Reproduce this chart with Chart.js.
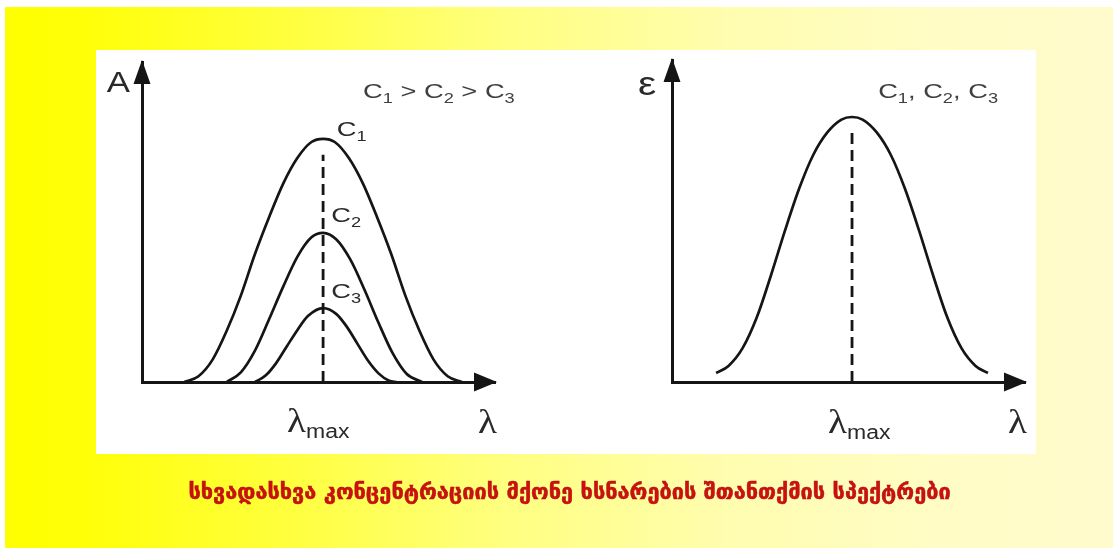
<!DOCTYPE html>
<html>
<head>
<meta charset="utf-8">
<script src="https://cdn.jsdelivr.net/npm/chart.js@4.4.1/dist/chart.umd.min.js"></script>
<style>
  body { margin: 0; background: #fff; }
  #page { position: relative; width: 1113px; height: 551px; overflow: hidden; background: #fff; }
  #band { position: absolute; left: 5px; top: 7px; width: 1108px; height: 541px;
    background: linear-gradient(to right, #ffff00 0%, #ffff08 7%, #ffff3c 25%, #ffff80 45%, #fffdae 65%, #fffcc6 85%, #fffbcc 100%); }
  #panel { position: absolute; left: 96px; top: 50px; width: 940px; height: 404px; background: #fff; }
  canvas { position: absolute; left: 0; top: 0; }
  #caption { position: absolute; left: 13px; width: 1113px; top: 479px; text-align: center;
    font-family: "DejaVu Sans", sans-serif; font-weight: bold; font-size: 21.7px; color: #cc1010;
    -webkit-text-stroke: 0.5px #b00c0c; white-space: nowrap; }
</style>
</head>
<body>
<div id="page">
  <div id="band"></div>
  <div id="panel"></div>
  <canvas id="chartA" width="1113" height="551"></canvas>
  <canvas id="chartE" width="1113" height="551"></canvas>
  <div id="caption">სხვადასხვა კონცენტრაციის მქონე ხსნარების შთანთქმის სპექტრები</div>
</div>
<script>
// left panel: absorbance A vs wavelength for three concentrations
const c1X = [12, 16, 20, 24, 28, 32, 36, 40, 44, 48, 51.3, 54.6, 58.6, 62.6, 66.6, 70.6, 74.6, 78.6, 82.6, 86.6, 90.6];
const c1Y = [0, 1.8, 7, 16, 27, 40, 51.5, 62, 70, 75, 76, 75, 70, 62, 51.5, 40, 27, 16, 7, 1.8, 0];
const c2X = [24, 28, 32, 36, 40, 44, 48, 51.3, 55, 59, 63, 67, 71, 75, 79.3];
const c2Y = [0, 3, 9.8, 19.6, 29.8, 39.1, 45.2, 46.6, 44.6, 38.3, 28.9, 18.5, 9, 2.5, 0];
const c3X = [32, 35, 38, 41, 44, 47, 51.3, 55, 58, 61, 64, 67, 70, 72.2];
const c3Y = [0, 2, 5.9, 11.1, 16.2, 20.6, 23.1, 21.3, 17.3, 12, 6.7, 2.7, 0.4, 0];
const peakA = 51.3;
const dashTopA = 71;

// right panel: molar absorptivity ε, same for all concentrations
const epsX = [12.5, 16, 20, 24, 28, 32, 36, 40, 44, 48, 51, 54, 58, 62, 66, 70, 74, 78, 82, 86, 89.5];
const epsY = [2.8, 5, 10.5, 20, 33, 47, 60, 70.5, 77.5, 81.5, 82.3, 81.5, 77.5, 70.5, 60, 47, 33, 20, 10.5, 5, 2.8];
const peakE = 51;
const dashTopE = 79;

const axisNameA = 'A';
const axisNameE = 'ε';
const axisNameX = 'λ';
const orderText = [['C', '1'], ' > ', ['C', '2'], ' > ', ['C', '3']];
const sameText = [['C', '1'], ', ', ['C', '2'], ', ', ['C', '3']];

const ink = '#151515';
const textInk = '#2a2a2a';
const sans = '"Liberation Sans", Arial, sans-serif';
const serif = '"Liberation Serif", "Times New Roman", serif';

function pts(xs, ys) {
  return xs.map((x, i) => ({ x: x, y: ys[i] }));
}

// draws text with subscripts, stretched a bit sideways like the source image
function drawRich(ctx, px, py, parts, o) {
  const sx = o.sx || 1.3;
  const subSize = Math.round(o.subSize || o.size * 0.66);
  const subFont = o.subFont || o.font;
  const runs = [];
  parts.forEach(p => {
    if (Array.isArray(p)) {
      runs.push({ t: p[0], size: o.size, font: o.font, dy: 0 });
      runs.push({ t: p[1], size: subSize, font: subFont, dy: o.subDy || o.size * 0.24 });
    } else {
      runs.push({ t: p, size: o.size, font: o.font, dy: 0 });
    }
  });
  let w = 0;
  runs.forEach(r => {
    ctx.font = r.size + 'px ' + r.font;
    r.w = ctx.measureText(r.t).width * sx;
    w += r.w;
  });
  let x = o.align === 'right' ? px - w : px;
  ctx.fillStyle = o.color || textInk;
  ctx.textBaseline = 'alphabetic';
  ctx.textAlign = 'left';
  runs.forEach(r => {
    ctx.save();
    ctx.font = r.size + 'px ' + r.font;
    ctx.translate(x, py + r.dy);
    ctx.scale(sx, 1);
    ctx.fillText(r.t, 0, 0);
    ctx.restore();
    x += r.w;
  });
}

const sketch = {
  id: 'sketch',
  afterDraw(chart, args, opts) {
    const ctx = chart.ctx;
    const a = chart.chartArea;
    const xs = chart.scales.x, ys = chart.scales.y;
    ctx.save();
    ctx.fillStyle = ink;
    ctx.beginPath();
    ctx.moveTo(a.left, a.top - 2);
    ctx.lineTo(a.left - 8.5, a.top + 22);
    ctx.lineTo(a.left + 8.5, a.top + 22);
    ctx.closePath();
    ctx.fill();
    ctx.beginPath();
    ctx.moveTo(a.right + 2, a.bottom);
    ctx.lineTo(a.right - 21, a.bottom - 9.5);
    ctx.lineTo(a.right - 21, a.bottom + 9.5);
    ctx.closePath();
    ctx.fill();
    opts.labels.forEach(l => {
      drawRich(ctx, xs.getPixelForValue(l.x), ys.getPixelForValue(l.y), l.parts, l);
    });
    ctx.restore();
  }
};

function makeChart(id, datasets, pad, labels) {
  return new Chart(document.getElementById(id), {
    type: 'line',
    data: { datasets: datasets },
    options: {
      responsive: false,
      animation: false,
      layout: { padding: pad },
      elements: { point: { radius: 0 } },
      scales: {
        x: { type: 'linear', min: 0, max: 100,
             ticks: { display: false }, grid: { display: false, drawTicks: false },
             border: { display: true, color: ink, width: 3 } },
        y: { type: 'linear', min: 0, max: 100,
             ticks: { display: false }, grid: { display: false, drawTicks: false },
             border: { display: true, color: ink, width: 3 } }
      },
      plugins: { legend: { display: false }, tooltip: { enabled: false }, sketch: { labels: labels } }
    },
    plugins: [sketch]
  });
}

function curve(data) {
  return { data: data, borderColor: ink, borderWidth: 2.7, fill: false, cubicInterpolationMode: 'monotone' };
}
function dashLine(x, top) {
  return { data: [{ x: x, y: 0 }, { x: x, y: top }], borderColor: ink, borderWidth: 2.8, borderDash: [11, 6], tension: 0 };
}

const lambdaMax = { size: 34, font: serif, sx: 1.15, subFont: sans, subSize: 20, subDy: 6 };

makeChart('chartA', [
  curve(pts(c1X, c1Y)),
  curve(pts(c2X, c2Y)),
  curve(pts(c3X, c3Y)),
  dashLine(peakA, dashTopA)
], { left: 142, right: 618, top: 62, bottom: 169 }, [
  { x: -3.4, y: 90.6, parts: [axisNameA], size: 29, font: sans, align: 'right', sx: 1.2 },
  { x: 62.6, y: 88.75, parts: orderText, size: 21, font: sans, color: '#404040' },
  { x: 55.2, y: 76.9, parts: [['C', '1']], size: 21, font: sans },
  { x: 53.6, y: 50, parts: [['C', '2']], size: 21, font: sans },
  { x: 53.6, y: 26.3, parts: [['C', '3']], size: 21, font: sans },
  Object.assign({ x: 41.1, y: -15.6, parts: [[axisNameX, 'max']] }, lambdaMax),
  { x: 95.2, y: -15.9, parts: [axisNameX], size: 34, font: serif, sx: 1.15 }
]);

makeChart('chartE', [
  curve(pts(epsX, epsY)),
  dashLine(peakE, dashTopE)
], { left: 672, right: 88, top: 60, bottom: 169 }, [
  { x: -4.5, y: 89.1, parts: [axisNameE], size: 34, font: sans, align: 'right', sx: 1.2 },
  { x: 58.4, y: 88.2, parts: sameText, size: 21, font: sans, color: '#404040' },
  Object.assign({ x: 44.2, y: -15.8, parts: [[axisNameX, 'max']] }, lambdaMax),
  { x: 95.2, y: -15.9, parts: [axisNameX], size: 34, font: serif, sx: 1.15 }
]);
</script>
</body>
</html>
